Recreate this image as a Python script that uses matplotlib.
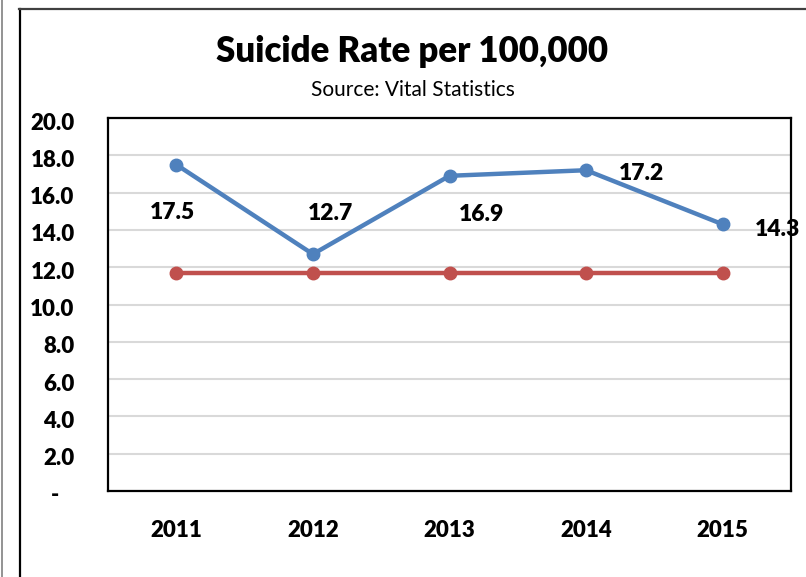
import matplotlib
matplotlib.use('Agg')
import matplotlib.pyplot as plt
import matplotlib.transforms as mtransforms
from matplotlib.lines import Line2D

plt.rcParams['font.family'] = ['Lato', 'DejaVu Sans']

# Chart data
years = ['2011', '2012', '2013', '2014', '2015']
suicide_rate = [17.5, 12.7, 16.9, 17.2, 14.3]
baseline_rate = [11.7, 11.7, 11.7, 11.7, 11.7]
y_ticks = [0, 2, 4, 6, 8, 10, 12, 14, 16, 18, 20]
y_tick_labels = ['-   ', '2.0', '4.0', '6.0', '8.0', '10.0', '12.0', '14.0', '16.0', '18.0', '20.0']

# pixel offsets of each data label from its point
label_offsets = [(-4, -48), (18, 41), (32, -39), (55, -3), (55, -5)]

W, H = 806, 577
fig = plt.figure(figsize=(W / 100, H / 100), dpi=100)
fig.patch.set_facecolor('white')

# outer frame lines
fig.add_artist(Line2D([2 / W, 2 / W], [0, 1], color='#808080', lw=1.2))
fig.add_artist(Line2D([20 / W, 20 / W], [0, 1 - 9 / H], color='black', lw=1.6))
fig.add_artist(Line2D([19 / W, 1], [1 - 9 / H, 1 - 9 / H], color='#404040', lw=1.6))

ax = fig.add_axes([108 / W, (H - 491) / H, (791 - 108) / W, (491 - 118) / H])
x = range(len(years))

ax.plot(x, baseline_rate, color='#C0504D', lw=3.2, marker='o', markersize=9, zorder=3)
ax.plot(x, suicide_rate, color='#4F81BD', lw=3.2, marker='o', markersize=9, zorder=4)

for i, v in enumerate(suicide_rate):
    dx, dy = label_offsets[i]
    ax.annotate(f'{v:.1f}', (i, v), xytext=(dx, dy), textcoords='offset pixels',
                ha='center', va='center', fontsize=16.5, fontweight='heavy', zorder=6,
                annotation_clip=False)

ax.set_xlim(-0.5, 4.5)
ax.set_ylim(0, 20)
ax.set_xticks(list(x))
ax.set_xticklabels(years, fontsize=16, fontweight='heavy')
ax.set_yticks(y_ticks)
ax.set_yticklabels(y_tick_labels, fontsize=16, fontweight='heavy')
ax.tick_params(axis='both', length=0)
ax.tick_params(axis='x', pad=21)
ax.tick_params(axis='y', pad=24)

# nudge y labels slightly below their gridlines
shift = mtransforms.ScaledTranslation(0, -3 / 100, fig.dpi_scale_trans)
for lbl in ax.get_yticklabels():
    lbl.set_transform(lbl.get_transform() + shift)

ax.grid(axis='y', color='#D9D9D9', lw=1.5)
ax.set_axisbelow(True)
for s in ax.spines.values():
    s.set_color('black')
    s.set_linewidth(1.6)
ax.set_zorder(2)

fig.text(412 / W, 1 - 52 / H, 'Suicide Rate per 100,000', ha='center', va='center',
         fontsize=25, fontweight='heavy')
fig.text(413 / W, 1 - 90 / H, 'Source: Vital Statistics', ha='center', va='center',
         fontsize=15)

fig.savefig('out.png', dpi=100)
